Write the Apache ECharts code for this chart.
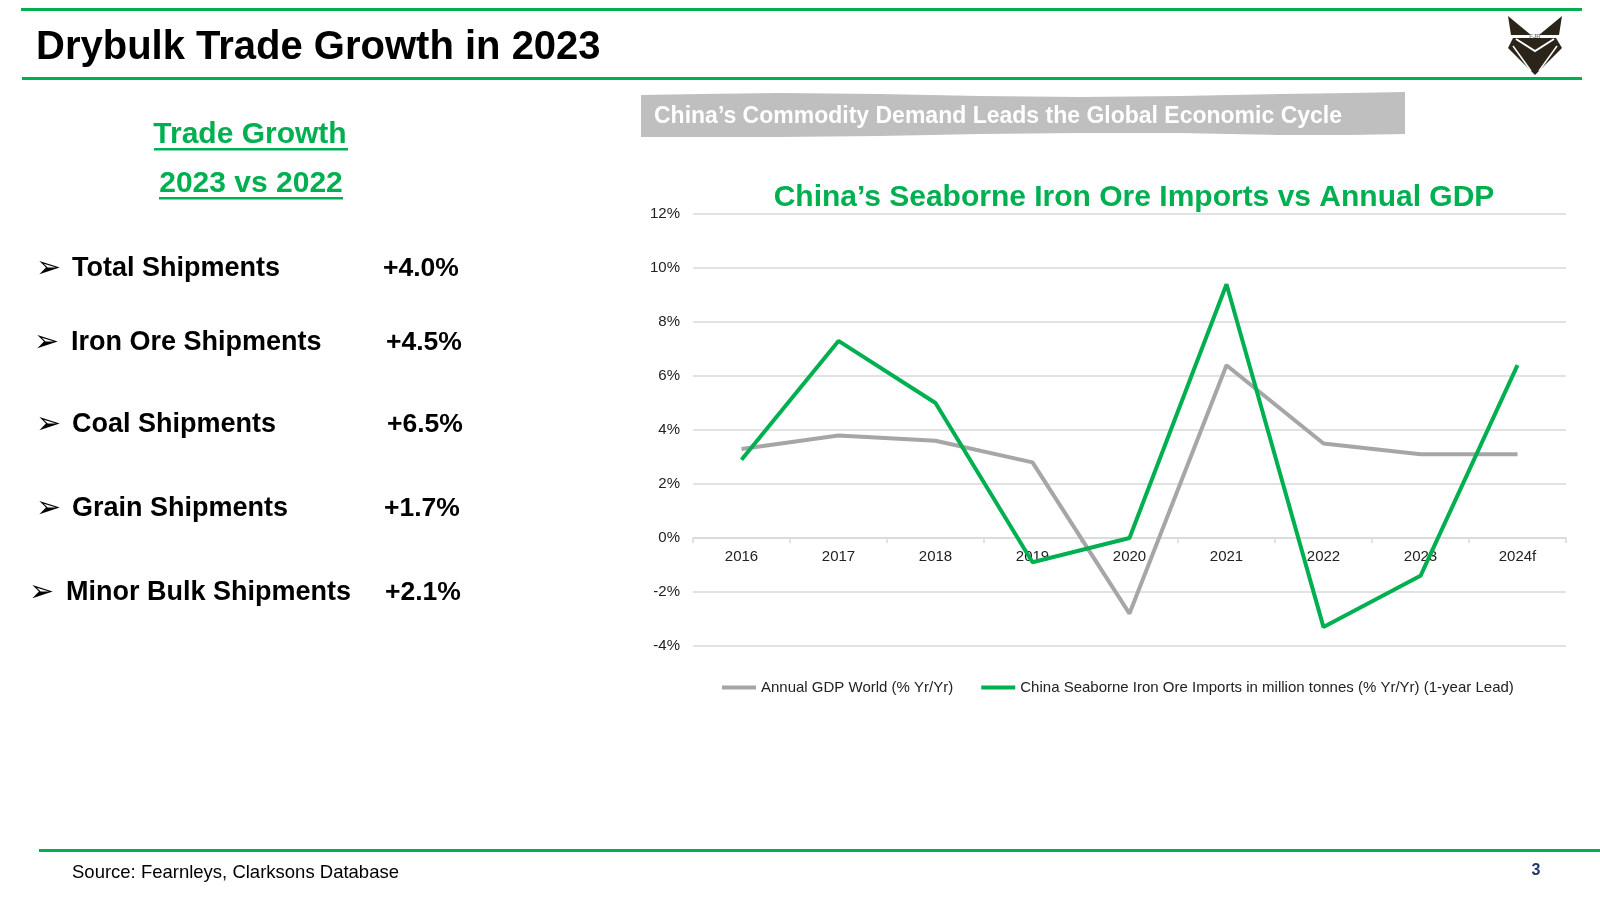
<!DOCTYPE html>
<html>
<head>
<meta charset="utf-8">
<script src="https://cdn.jsdelivr.net/npm/echarts@6/dist/echarts.min.js"></script>
<style>
html,body{margin:0;padding:0;background:#fff;}
#chart{width:1600px;height:900px;}
</style>
</head>
<body>
<div id="chart"></div>
<script>
// ---- data ----
const categories = ['2016', '2017', '2018', '2019', '2020', '2021', '2022', '2023', '2024f'];
const gdpWorld = [3.3, 3.8, 3.6, 2.8, -2.8, 6.4, 3.5, 3.1, 3.1];
const ironOreImports = [2.9, 7.3, 5.0, -0.9, 0.0, 9.4, -3.3, -1.4, 6.4];
const seriesNames = ['Annual GDP World (% Yr/Yr)', 'China Seaborne Iron Ore Imports in million tonnes (% Yr/Yr) (1-year Lead)'];
const tradeLabels = ['Total Shipments', 'Iron Ore Shipments', 'Coal Shipments', 'Grain Shipments', 'Minor Bulk Shipments'];
const tradeValues = ['+4.0%', '+4.5%', '+6.5%', '+1.7%', '+2.1%'];

// ---- layout (styles only) ----
const GREEN = '#00b050';
const GRAY = '#a6a6a6';
const FONT = '"Liberation Sans", Arial, "DejaVu Sans", sans-serif';
const rowY = [269, 343, 425, 509, 593];
const arrowX = [36, 34, 36, 36, 29];
const labelX = [72, 71, 72, 72, 66];
const valueX = [383, 386, 387, 384, 385];

const chart = echarts.init(document.getElementById('chart'));

const graphics = [
  // header lines
  {type:'rect', shape:{x:21, y:8, width:1561, height:3}, style:{fill:GREEN}, silent:true},
  {type:'rect', shape:{x:22, y:77, width:1560, height:3}, style:{fill:GREEN}, silent:true},
  {type:'text', style:{x:36, y:48, text:'Drybulk Trade Growth in 2023', font:'bold 40px ' + FONT, fill:'#000', textAlign:'left', textVerticalAlign:'middle'}},
  // logo
  {type:'polygon', shape:{points:[[1508,16],[1531,35],[1511,35]]}, style:{fill:'#2b2419'}},
  {type:'polygon', shape:{points:[[1562,16],[1539,35],[1559,35]]}, style:{fill:'#2b2419'}},
  {type:'polygon', shape:{points:[[1513,38],[1556,38],[1562,48],[1535,75],[1508,48]]}, style:{fill:'#2b2419'}},
  {type:'polyline', shape:{points:[[1516,39],[1535,51],[1554,39]]}, style:{stroke:'#fff', lineWidth:2, fill:null}},
  {type:'line', shape:{x1:1513, y1:46, x2:1531, y2:71}, style:{stroke:'#fff', lineWidth:1.5}},
  {type:'line', shape:{x1:1557, y1:46, x2:1539, y2:71}, style:{stroke:'#fff', lineWidth:1.5}},
  {type:'text', style:{x:1535, y:36, text:'FJR', font:'bold 6px ' + FONT, fill:'#888', textAlign:'center', textVerticalAlign:'middle'}},
  // left panel titles
  {type:'text', style:{x:250, y:135, text:'Trade Growth', font:'bold 30px ' + FONT, fill:GREEN, textAlign:'center', textVerticalAlign:'middle'}},
  {type:'rect', shape:{x:154, y:148, width:194, height:2.5}, style:{fill:GREEN}},
  {type:'text', style:{x:251, y:184, text:'2023 vs 2022', font:'bold 30px ' + FONT, fill:GREEN, textAlign:'center', textVerticalAlign:'middle'}},
  {type:'rect', shape:{x:159, y:197, width:184, height:2.5}, style:{fill:GREEN}},
  // banner
  {type:'polygon', shape:{points:[[641,95],[700,94],[780,93],[880,94],[980,96],[1080,97],[1180,96],[1280,94],[1350,93],[1405,92],
                                  [1405,134],[1350,135],[1280,135],[1180,133],[1080,133],[980,134],[880,136],[780,137],[700,137],[641,137]]}, style:{fill:'#bfbfbf'}},
  {type:'text', style:{x:654, y:117, text:'China\u2019s Commodity Demand Leads the Global Economic Cycle', font:'bold 23px ' + FONT, fill:'#ffffff', textAlign:'left', textVerticalAlign:'middle'}},
  // chart title
  {type:'text', style:{x:1134, y:198, text:'China\u2019s Seaborne Iron Ore Imports vs Annual GDP', font:'bold 30px ' + FONT, fill:GREEN, textAlign:'center', textVerticalAlign:'middle'}},
  // footer
  {type:'rect', shape:{x:39, y:849, width:1561, height:3}, style:{fill:GREEN}},
  {type:'text', style:{x:72, y:873, text:'Source: Fearnleys, Clarksons Database', font:'18.5px ' + FONT, fill:'#000', textAlign:'left', textVerticalAlign:'middle'}},
  {type:'text', style:{x:1536, y:871, text:'3', font:'bold 16px ' + FONT, fill:'#1f3864', textAlign:'center', textVerticalAlign:'middle'}}
];

tradeLabels.forEach(function (lab, i) {
  graphics.push({type:'text', style:{x:arrowX[i], y:rowY[i], text:'\u27A2', font:'30px "DejaVu Sans", sans-serif', fill:'#000', textAlign:'left', textVerticalAlign:'middle'}});
  graphics.push({type:'text', style:{x:labelX[i], y:rowY[i], text:lab, font:'bold 27px ' + FONT, fill:'#000', textAlign:'left', textVerticalAlign:'middle'}});
  graphics.push({type:'text', style:{x:valueX[i], y:rowY[i], text:tradeValues[i], font:'bold 26.5px ' + FONT, fill:'#000', textAlign:'left', textVerticalAlign:'middle'}});
});

const option = {
  animation: false,
  backgroundColor: '#ffffff',
  textStyle: {fontFamily: FONT},
  grid: {left: 693, right: 34, top: 214, bottom: 254, containLabel: false},
  legend: {
    left: 722, top: 680, padding: 0,
    itemWidth: 34, itemHeight: 4, itemGap: 28,
    icon: 'rect',
    textStyle: {fontSize: 15, color: '#222', fontFamily: FONT},
    data: seriesNames
  },
  xAxis: {
    type: 'category',
    data: categories,
    boundaryGap: true,
    z: 0,
    axisLine: {onZero: false, lineStyle: {color: '#d9d9d9', width: 1.5}},
    axisTick: {show: true, length: 5, lineStyle: {color: '#d9d9d9', width: 1.5}},
    axisLabel: {fontSize: 15, color: '#222', margin: 11, fontFamily: FONT},
    splitLine: {show: false}
  },
  yAxis: {
    type: 'value',
    min: -4, max: 12, interval: 2,
    axisLine: {show: false},
    axisTick: {show: false},
    axisLabel: {fontSize: 15, color: '#222', margin: 13, padding: [3, 0, 0, 0], formatter: '{value}%', fontFamily: FONT},
    splitLine: {lineStyle: {color: '#d9d9d9', width: 1.5}}
  },
  series: [
    {name: seriesNames[0], type: 'line', data: gdpWorld, symbol: 'none', lineStyle: {color: GRAY, width: 4}, itemStyle: {color: GRAY}, z: 5},
    {name: seriesNames[1], type: 'line', data: ironOreImports, symbol: 'none', lineStyle: {color: GREEN, width: 4}, itemStyle: {color: GREEN}, z: 6}
  ],
  graphic: {elements: graphics}
};
chart.setOption(option);
// place the category axis (line, ticks and labels) on the zero line of the value axis
const yZero = chart.convertToPixel({yAxisIndex: 0}, 0);
const yBottom = chart.convertToPixel({yAxisIndex: 0}, -4);
chart.setOption({xAxis: {offset: yZero - yBottom}});
</script>
</body>
</html>
